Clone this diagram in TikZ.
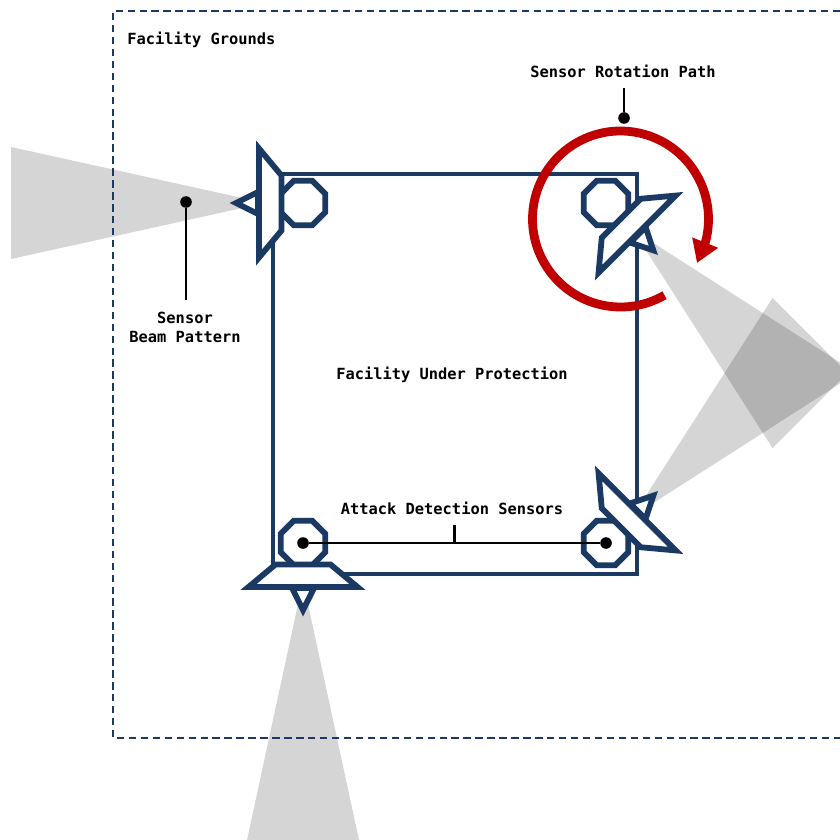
\documentclass[tikz,border=0pt]{standalone}
\usepackage{fontspec}
\setmonofont{DejaVu Sans Mono}
\usepackage{xcolor}
\usetikzlibrary{arrows.meta, calc, shapes.geometric}

\definecolor{sensornavy}{HTML}{1A3A63}
\definecolor{pathred}{HTML}{C00000}

\begin{document}
\begin{tikzpicture}[x=0.2mm, y=0.2mm, line join=miter,
    sitelabel/.style={font=\ttfamily\bfseries\fontsize{8.75}{10.8}\selectfont, inner sep=0pt, align=center},
    navyline/.style={draw=sensornavy, line width=3.3pt},
    mount/.style={navyline, fill=white, regular polygon, regular polygon sides=8, minimum size=27.5pt, inner sep=0pt},
    sensorbody/.style={navyline, fill=white},
    beam/.style={fill=black, fill opacity=0.165},
    leaderdot/.style={circle, fill=black, minimum size=6.6pt, inner sep=0pt},
    leader/.style={black, line width=1.15pt}]

    \useasboundingbox (0,0) rectangle (840,839);

    % Mounting points
    \coordinate (nw) at (303,636);
    \coordinate (ne) at (606,636);
    \coordinate (sw) at (303,296);
    \coordinate (se) at (606,296);

    % Beam patterns
    \foreach \c/\a/\r/\w in {nw/-90/292/56, ne/45/291/55.5, se/135/291/55.5, sw/0/297/56}{
        \fill[beam, shift={(\c)}, rotate=\a]
            (0,-38) -- (-\w,-\r) -- (\w,-\r) -- cycle;
    }

    % Facility grounds
    \draw[sensornavy, line width=1.1pt, dash pattern=on 4.2pt off 2.6pt]
        (840,828) -- (113,828) -- (113,101) -- (840,101);

    % Facility under protection
    \draw[sensornavy, line width=2.7pt] (273,665) rectangle (637,265);

    % Sensors on their mounts
    \foreach \c/\a in {nw/-90, ne/45, sw/0, se/135}{
        \node[mount] (mount\c) at (\c) {};
        \begin{scope}[shift={(\c)}, rotate=\a]
            \draw[sensorbody] (-11,-45) -- (0,-67) -- (11,-45) -- cycle;
            \draw[sensorbody] (-27.5,-21.5) -- (27.5,-21.5) -- (54.5,-44) -- (-54.5,-44) -- cycle;
        \end{scope}
    }

    % Rotation path
    \draw[pathred, line width=5pt, -{Triangle[length=12.5pt, width=15pt]}]
        ($(620.5,620)+(-60:88)$) arc[start angle=-60, end angle=-375, radius=88] -- (697,576);

    % Labels
    \node[sitelabel, anchor=west] (groundslabel) at (127,799.5) {Facility Grounds};
    \node[sitelabel] (facilitylabel) at (452,464.5) {Facility Under Protection};
    \node[sitelabel] (pathlabel) at (623,767.5) {Sensor Rotation Path};
    \node[sitelabel] (beamlabel) at (185,512) {Sensor\\Beam Pattern};
    \node[sitelabel] (attacklabel) at (452,331) {Attack Detection Sensors};

    % Leaders
    \node[leaderdot] (pathdot) at (624,721) {};
    \node[leaderdot] (beamdot) at (186,637) {};
    \node[leaderdot] (sensordota) at (sw) {};
    \node[leaderdot] (sensordotb) at (se) {};
    \coordinate (pathtop) at (624,751);
    \coordinate (beamend) at (186,539);
    \coordinate (sensormid) at (454.5,296);
    \coordinate (sensortop) at (454.5,314);
    \draw[leader] (pathtop) -- (pathdot);
    \draw[leader] (beamdot) -- (beamend);
    \draw[leader] (sensordota) -- (sensordotb);
    \draw[leader] (sensormid) -- (sensortop);

\end{tikzpicture}
\end{document}
